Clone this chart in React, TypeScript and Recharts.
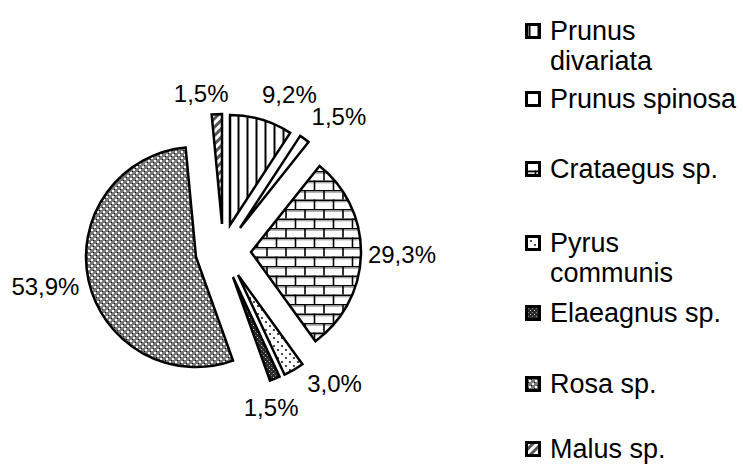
import React from "react";
import { PieChart, Pie, Cell } from "recharts";

// shares of shrub species, %
const species = [
  "Prunus divariata",
  "Prunus spinosa",
  "Crataegus sp.",
  "Pyrus communis",
  "Elaeagnus sp.",
  "Rosa sp.",
  "Malus sp.",
];
const shares = [9.2, 1.5, 29.3, 3.0, 1.5, 53.9, 1.5];
const shareLabels = ["9,2%", "1,5%", "29,3%", "3,0%", "1,5%", "53,9%", "1,5%"];
const legendRows = [
  ["Prunus", "divariata"],
  ["Prunus spinosa"],
  ["Crataegus sp."],
  ["Pyrus", "communis"],
  ["Elaeagnus sp."],
  ["Rosa sp."],
  ["Malus sp."],
];

const data = species.map((name, i) => ({ name, value: shares[i] }));

// styling / layout
const fills = ["url(#pDiv)", "#fff", "url(#pBrick)", "url(#pDots)", "url(#pDark)", "url(#pGrid)", "url(#pDiag)"];
const center = [223, 251];
const explode = [[7, -26], [17, -23], [28, 1], [15, 24], [10, 26], [-27, 6], [-1, -27]];
const labelNudge = [[18, 8], [14, 6], [6, -1], [23, -16], [-17, -4], [-9, -2], [-14, 14]];
const legendBaselines = [40, 108, 178, 252, 322, 393, 458];
const FONT = "'Liberation Sans', Arial, sans-serif";
const RAD = Math.PI / 180;

const makeLabel = (idx: number) => (p: any) => {
  if (p.index !== idx) return null;
  const r = p.outerRadius + 35;
  const x = p.cx + r * Math.cos(-p.midAngle * RAD) + labelNudge[idx][0];
  const y = p.cy + r * Math.sin(-p.midAngle * RAD) + labelNudge[idx][1];
  return (
    <text x={x} y={y} textAnchor="middle" dominantBaseline="central" fontSize={24} fontFamily={FONT} fill="#000">
      {shareLabels[idx]}
    </text>
  );
};

const Patterns = () => (
  <defs>
    <pattern id="pDiv" width="9" height="9" patternUnits="userSpaceOnUse">
      <rect width="9" height="9" fill="#fff" />
      <line x1="4.5" y1="0" x2="4.5" y2="9" stroke="#000" strokeWidth="2" />
    </pattern>
    <pattern id="pBrick" width="19" height="19" patternUnits="userSpaceOnUse">
      <rect width="19" height="19" fill="#fff" />
      <line x1="0" y1="0.75" x2="19" y2="0.75" stroke="#000" strokeWidth="1.5" />
      <line x1="0" y1="2.2" x2="19" y2="2.2" stroke="#aaa" strokeWidth="1.4" />
      <line x1="0" y1="10.25" x2="19" y2="10.25" stroke="#000" strokeWidth="1.5" />
      <line x1="0" y1="11.7" x2="19" y2="11.7" stroke="#aaa" strokeWidth="1.4" />
      <line x1="1" y1="0" x2="1" y2="9.5" stroke="#000" strokeWidth="1.6" />
      <line x1="10.5" y1="9.5" x2="10.5" y2="19" stroke="#000" strokeWidth="1.6" />
    </pattern>
    <pattern id="pDots" width="8" height="8" patternUnits="userSpaceOnUse">
      <rect width="8" height="8" fill="#fff" />
      <circle cx="2" cy="2" r="1.1" fill="#222" />
      <circle cx="6" cy="6" r="1.1" fill="#222" />
    </pattern>
    <pattern id="pDark" width="4" height="4" patternUnits="userSpaceOnUse">
      <rect width="4" height="4" fill="#2a2a2a" />
      <rect x="1" y="1" width="1" height="1" fill="#ccc" />
      <rect x="3" y="3" width="1" height="1" fill="#888" />
    </pattern>
    <pattern id="pGrid" width="6" height="6" patternUnits="userSpaceOnUse">
      <rect width="6" height="6" fill="#7a7a7a" />
      <rect x="1" y="1" width="2" height="2" fill="#fff" />
      <rect x="4" y="4" width="2" height="2" fill="#fff" />
      <rect x="0" y="3" width="1" height="1" fill="#111" />
      <rect x="3" y="0" width="1" height="1" fill="#111" />
    </pattern>
    <pattern id="pDiag" width="6" height="6" patternUnits="userSpaceOnUse" patternTransform="rotate(-45)">
      <rect width="6" height="6" fill="#fff" />
      <rect width="6" height="3" fill="#555" />
    </pattern>
  </defs>
);

export default function App() {
  return (
    <div style={{ position: "fixed", left: 0, top: 0, width: 743, height: 467, background: "#fff" }}>
      <PieChart width={743} height={467} margin={{ top: 0, right: 0, bottom: 0, left: 0 }}>
        <Patterns />
        {data.map((_, i) => (
          <Pie
            key={i}
            data={data}
            dataKey="value"
            nameKey="name"
            cx={center[0] + explode[i][0]}
            cy={center[1] + explode[i][1]}
            innerRadius={0}
            outerRadius={110}
            startAngle={90}
            endAngle={-270}
            label={makeLabel(i)}
            labelLine={false}
            isAnimationActive={false}
          >
            {data.map((_, j) => (
              <Cell
                key={j}
                fill={j === i ? fills[j] : "none"}
                stroke={j === i ? "#000" : "none"}
                strokeWidth={2.5}
              />
            ))}
          </Pie>
        ))}
      </PieChart>
      {legendRows.map((rows, i) => (
        <React.Fragment key={i}>
          <svg
            width={16}
            height={16}
            style={{ position: "absolute", left: 525, top: legendBaselines[i] - 17 }}
          >
            <rect x={1.5} y={1.5} width={13} height={13} fill={fills[i]} stroke="#000" strokeWidth={3} />
          </svg>
          <div
            style={{
              position: "absolute",
              left: 550,
              top: legendBaselines[i] - 24,
              fontFamily: FONT,
              fontSize: 27,
              lineHeight: "30px",
              color: "#000",
              whiteSpace: "nowrap",
            }}
          >
            {rows.map((r, k) => (
              <div key={k}>{r}</div>
            ))}
          </div>
        </React.Fragment>
      ))}
    </div>
  );
}
